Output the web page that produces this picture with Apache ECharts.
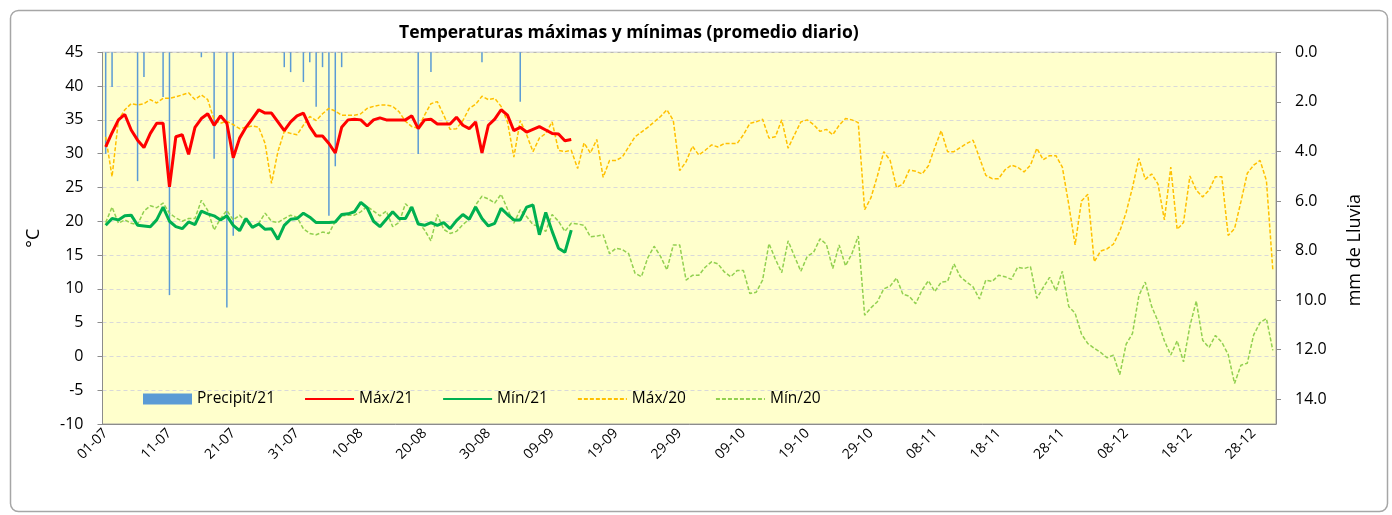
<!DOCTYPE html>
<html>
<head>
<meta charset="utf-8">
<script src="https://cdn.jsdelivr.net/npm/echarts@6/dist/echarts.min.js"></script>
<style>
  html, body { margin: 0; background: #fff; }
  #chart { width: 1392px; height: 515px; }
</style>
</head>
<body>
<div id="chart"></div>
<script>
// categories: 01-07 .. 31-12
const MONTHS = [[7, 31], [8, 31], [9, 30], [10, 31], [11, 30], [12, 31]];
const days = [];
MONTHS.forEach(([m, n]) => {
  for (let d = 1; d <= n; d++) days.push(String(d).padStart(2, "0") + "-" + String(m).padStart(2, "0"));
});

// 2021 (01-07 .. 12-09)
const precip21 = [4.1, 1.4, 0, 0, 0, 5.2, 1.0, 0, 0, 1.8, 9.8, 0, 0, 0, 0, 0.2, 0, 4.3, 0, 10.3,
  7.4, 0, 0, 0, 0, 0, 0, 0, 0.6, 0.8, 0, 1.2, 0.4, 2.2, 0.6, 6.6, 4.6, 0.6, 0, 0,
  0, 0, 0, 0, 0, 0, 0, 0, 0, 4.1, 0, 0.8, 0, 0, 0, 0, 0, 0, 0, 0.4,
  0, 0, 0, 0, 0, 2.0, 0, 0, 0, 0, 0, 0, 0, 0];
const max21 = [31.0, 33.1, 35.0, 35.8, 33.5, 32.0, 30.9, 33.0, 34.5, 34.5, 25.1, 32.5, 32.8, 29.9, 33.9, 35.2,
  35.9, 34.2, 35.6, 34.5, 29.4, 32.3, 33.9, 35.2, 36.5, 36.0, 36.0, 34.7, 33.4, 34.7, 35.6,
  36.0, 34.0, 32.6, 32.6, 31.5, 30.1, 33.9, 35.0, 35.1, 35.0, 34.1, 35.0, 35.3, 35.0, 35.0,
  35.0, 35.0, 35.6, 33.7, 35.0, 35.1, 34.4, 34.4, 34.4, 35.4, 34.2, 33.7, 34.7, 30.1, 34.2, 35.1,
  36.5, 35.7, 33.4, 33.9, 33.2, 33.6, 34.0, 33.5, 33.0, 32.9, 31.9, 32.1];
const min21 = [19.4, 20.4, 20.2, 20.8, 20.9, 19.4, 19.3, 19.2, 20.2, 22.1, 20.0, 19.2, 18.9, 19.9, 19.5, 21.5,
  21.1, 20.8, 20.2, 20.8, 19.4, 18.6, 20.4, 19.1, 19.6, 18.8, 18.9, 17.3, 19.4, 20.3, 20.4,
  21.2, 20.6, 19.8, 19.8, 19.8, 19.9, 21.0, 21.1, 21.4, 22.8, 22.0, 20.0, 19.2, 20.3, 21.4,
  20.4, 20.4, 22.1, 19.6, 19.4, 19.8, 19.4, 19.8, 18.9, 20.1, 21.0, 20.3, 22.1, 20.4, 19.3, 19.7,
  21.9, 21.0, 20.2, 20.2, 22.1, 22.4, 18.0, 21.3, 18.5, 16.0, 15.4, 18.7];

// 2020 (01-07 .. 31-12)
const max20 = [
  32.5, 26.6, 35.0, 36.5, 37.4, 37.2, 37.4, 38.0, 37.5, 38.2, 38.2, 38.4, 38.7, 39.0, 38.0, 38.7,
  38.0, 35.0, 34.5, 34.8, 34.3, 33.7, 33.9, 34.1, 33.9, 31.5, 25.6, 30.3, 33.3, 33.0, 32.8,
  34.2, 35.5, 34.9, 35.9, 36.7, 36.3, 35.7, 35.7, 35.7, 35.9, 36.7, 37.0, 37.2, 37.2, 37.0,
  36.2, 34.8, 34.0, 33.8, 35.7, 37.4, 37.7, 35.7, 33.6, 33.7, 34.9, 36.7, 37.3, 38.5, 38.0, 38.2,
  37.0, 34.7, 29.5, 34.9, 32.8, 30.3, 32.3, 33.0, 34.7, 30.5, 30.3, 30.5, 27.8, 31.6, 30.1,
  32.1, 26.5, 29.0, 29.0, 29.5, 31.0, 32.5, 33.2, 33.9, 34.7, 35.5, 36.5, 34.9, 27.5, 28.8, 31.1, 29.8,
  30.5, 31.3, 31.0, 31.5, 31.5, 31.5, 32.8, 34.5, 34.7, 35.1, 32.3, 32.5, 35.0, 30.8, 32.8,
  34.7, 35.0, 34.3, 33.3, 33.6, 32.8, 34.2, 35.2, 35.0, 34.6, 21.7, 23.5, 26.7, 30.3, 29.0, 25.0,
  25.5, 27.6, 27.4, 27.0, 28.2, 30.9, 33.4, 30.3, 30.3, 30.9, 31.5, 32.0, 29.4, 26.8, 26.3,
  26.3, 27.6, 28.3, 28.0, 27.3, 28.3, 30.8, 29.1, 29.7, 29.7, 28.0, 22.5, 16.5, 23.0, 24.0, 14.0,
  15.6, 15.9, 16.6, 18.5, 21.3, 25.0, 29.3, 26.2, 27.0, 25.5, 20.2, 28.0, 18.8, 19.8,
  26.7, 24.6, 23.6, 24.6, 26.6, 26.6, 17.9, 18.9, 22.9, 27.1, 28.3, 29.0, 26.0, 12.8];
const min20 = [
  19.8, 22.1, 19.7, 20.2, 19.7, 19.5, 21.5, 22.3, 22.0, 22.7, 21.2, 20.5, 20.0, 20.4, 20.4, 23.1,
  21.6, 18.7, 20.4, 21.6, 20.2, 20.9, 19.9, 19.2, 19.7, 21.2, 20.0, 19.8, 20.4, 20.9, 20.6,
  18.9, 18.2, 18.0, 18.4, 18.2, 20.0, 20.8, 20.9, 20.9, 21.4, 22.2, 21.5, 20.8, 21.5, 19.2,
  19.8, 22.6, 21.6, 19.9, 18.7, 17.1, 21.0, 18.8, 18.2, 18.5, 19.5, 20.3, 22.4, 23.7, 23.3, 22.7,
  24.0, 21.8, 19.7, 21.7, 20.7, 19.5, 19.2, 18.5, 21.0, 20.0, 18.5, 19.7, 19.6, 19.4, 17.7,
  17.8, 18.0, 15.2, 16.0, 15.8, 15.2, 12.3, 11.8, 14.6, 16.3, 14.8, 12.8, 16.5, 16.5, 11.3, 12.0, 12.0,
  13.2, 14.0, 13.7, 12.5, 11.8, 12.7, 12.7, 9.3, 9.5, 11.3, 16.7, 14.4, 12.4, 17.1, 14.8,
  12.6, 14.8, 15.4, 17.4, 16.6, 13.0, 16.5, 13.4, 15.2, 17.8, 6.1, 7.2, 8.1, 10.0, 10.4, 11.6,
  9.2, 8.9, 7.8, 9.8, 11.2, 9.6, 11.0, 11.1, 13.7, 11.8, 11.0, 10.3, 8.5, 11.3, 11.1,
  12.0, 11.8, 11.4, 13.2, 13.0, 13.3, 8.6, 10.2, 11.7, 9.7, 12.6, 7.4, 6.4, 3.3, 1.9, 1.2,
  0.6, -0.2, 0.2, -2.7, 1.8, 3.4, 9.0, 11.0, 7.4, 5.2, 2.3, 0.2, 2.3, -0.8,
  4.5, 8.2, 2.4, 1.3, 3.1, 2.1, 0.3, -4.0, -1.3, -1.0, 3.2, 5.0, 5.6, 0.9];

const FONT = "Open Sans";
const AXIS_GREY = "#8c8c8c";

const chart = echarts.init(document.getElementById("chart"));

const lineSeries = (name, data, color, dashed) => ({
  name, type: "line", data, symbol: "none", yAxisIndex: 0, z: dashed ? 3 : 4,
  lineStyle: { color, width: dashed ? 1.5 : 3, type: dashed ? [4, 2] : "solid" },
  itemStyle: { color }
});
// legend entries for lines: show the line only, no symbol
const lineLegend = (name) => ({ name, itemStyle: { opacity: 0 } });

chart.setOption({
  animation: false,
  textStyle: { fontFamily: FONT },
  title: {
    text: "Temperaturas máximas y mínimas (promedio diario)",
    left: 394, top: 19,
    textStyle: { fontFamily: FONT, fontSize: 17.5, fontWeight: "bold", color: "#000" }
  },
  graphic: [{
    type: "rect", silent: true, z: -10,
    shape: { x: 10.5, y: 10.5, width: 1377, height: 501, r: 8 },
    style: { fill: "none", stroke: "#a6a6a6", lineWidth: 1.5 }
  }],
  legend: {
    left: 138, top: 386, itemWidth: 49, itemHeight: 11, itemGap: 29,
    textStyle: { fontFamily: FONT, fontSize: 15.5, color: "#000" },
    data: [{ name: "Precipit/21", icon: "rect" }, lineLegend("Máx/21"), lineLegend("Mín/21"),
      lineLegend("Máx/20"), lineLegend("Mín/20")]
  },
  grid: {
    left: 102.5, right: 116, top: 52.3, bottom: 91, show: true,
    backgroundColor: "#FFFFCC", borderColor: "#a6a6a6", borderWidth: 1
  },
  xAxis: {
    type: "category", data: days, boundaryGap: true,
    axisLine: { onZero: false, lineStyle: { color: AXIS_GREY } },
    axisTick: { interval: (i) => i % 5 === 0, length: 5, lineStyle: { color: AXIS_GREY } },
    axisLabel: { interval: (i) => i % 10 === 0, rotate: 45, fontSize: 14, color: "#000", margin: 7, fontFamily: FONT }
  },
  yAxis: [{
    type: "value", min: -10, max: 45, interval: 5,
    name: "°C", nameLocation: "middle", nameGap: 60, nameRotate: 90,
    nameTextStyle: { fontFamily: FONT, fontSize: 18, color: "#000" },
    axisLine: { show: true, lineStyle: { color: AXIS_GREY } },
    axisTick: { show: true, length: 5, lineStyle: { color: AXIS_GREY } },
    axisLabel: { fontSize: 16, color: "#000", margin: 19, fontFamily: FONT },
    splitLine: { lineStyle: { color: "#d9d9d9", type: [4, 3] } }
  }, {
    type: "value", min: 0, max: 15, interval: 2, inverse: true, position: "right",
    name: "mm de Lluvia", nameLocation: "middle", nameGap: 70, nameRotate: 90,
    nameTextStyle: { fontFamily: FONT, fontSize: 18, color: "#000", padding: [0, 24, 0, 0] },
    axisLine: { show: true, lineStyle: { color: AXIS_GREY } },
    axisTick: { show: true, length: 5, lineStyle: { color: AXIS_GREY } },
    axisLabel: { fontSize: 16, color: "#000", margin: 19, fontFamily: FONT,
      showMaxLabel: false, formatter: (v) => v.toFixed(1) },
    splitLine: { show: false }
  }],
  series: [
    { name: "Precipit/21", type: "bar", yAxisIndex: 1, data: precip21, barWidth: 1.5,
      itemStyle: { color: "#5B9BD5" }, z: 2 },
    lineSeries("Máx/21", max21, "#FF0000", false),
    lineSeries("Mín/21", min21, "#00B050", false),
    lineSeries("Máx/20", max20, "#FFC000", true),
    lineSeries("Mín/20", min20, "#92D050", true)
  ]
});
</script>
</body>
</html>
